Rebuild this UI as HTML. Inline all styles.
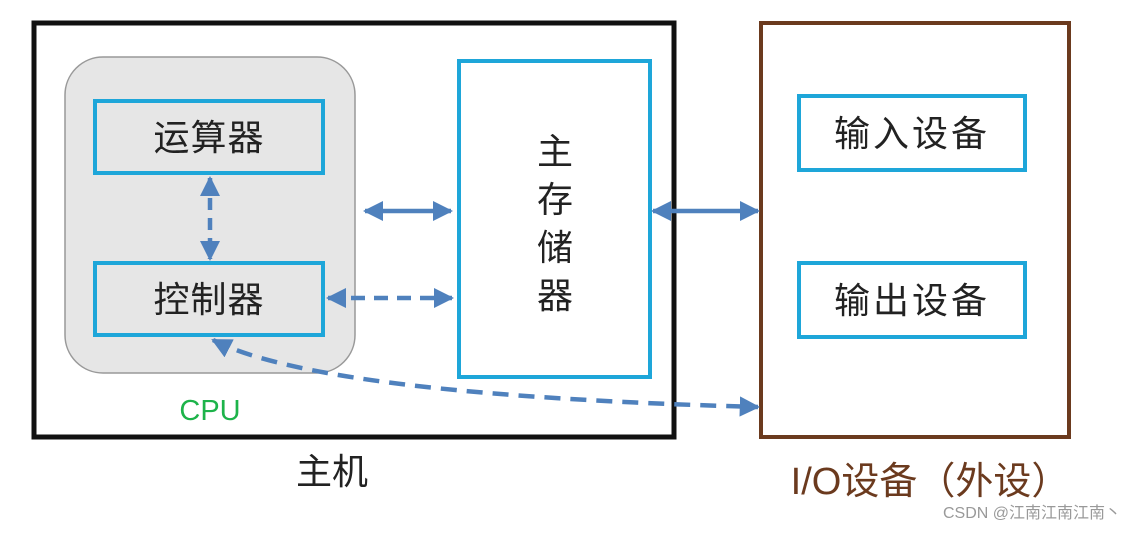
<!DOCTYPE html>
<html><head><meta charset="utf-8"><style>
body{margin:0;background:#fff;}
svg text{font-family:"Liberation Sans","Noto Sans CJK SC",sans-serif;}
</style></head><body>
<svg width="1146" height="530" viewBox="0 0 1146 530" xmlns="http://www.w3.org/2000/svg">
<defs>
<marker id="ah" viewBox="0 0 10 10" refX="9" refY="5" markerWidth="4.5" markerHeight="4.5" orient="auto-start-reverse">
<path d="M0,0 L10,5 L0,10 z" fill="#4f81bd"/></marker>
</defs>
<rect x="34" y="23" width="640" height="414" fill="#fff" stroke="#111" stroke-width="5"/>
<rect x="65" y="57" width="290" height="316" rx="38" fill="#e6e6e6" stroke="#999" stroke-width="1.5"/>
<rect x="95" y="101" width="228" height="72" fill="none" stroke="#1ea6d9" stroke-width="4"/>
<rect x="95" y="263" width="228" height="72" fill="none" stroke="#1ea6d9" stroke-width="4"/>
<text x="209" y="150" font-size="36" text-anchor="middle" fill="#222" letter-spacing="1">运算器</text>
<text x="209" y="312" font-size="36" text-anchor="middle" fill="#222" letter-spacing="1">控制器</text>
<rect x="459" y="61" width="191" height="316" fill="#fff" stroke="#1ea6d9" stroke-width="4"/>
<text x="555" y="164" font-size="36" text-anchor="middle" fill="#222">主</text>
<text x="555" y="212" font-size="36" text-anchor="middle" fill="#222">存</text>
<text x="555" y="260" font-size="36" text-anchor="middle" fill="#222">储</text>
<text x="555" y="308" font-size="36" text-anchor="middle" fill="#222">器</text>
<text x="210" y="420" font-size="29" text-anchor="middle" fill="#1db34a">CPU</text>
<rect x="761" y="23" width="308" height="414" fill="none" stroke="#6b3a1e" stroke-width="4"/>
<rect x="799" y="96" width="226" height="74" fill="none" stroke="#1ea6d9" stroke-width="4"/>
<rect x="799" y="263" width="226" height="74" fill="none" stroke="#1ea6d9" stroke-width="4"/>
<text x="912" y="146" font-size="36" text-anchor="middle" fill="#222" letter-spacing="3">输入设备</text>
<text x="912" y="313" font-size="36" text-anchor="middle" fill="#222" letter-spacing="3">输出设备</text>
<g stroke="#4f81bd" stroke-width="4.5" fill="none">
<line x1="365" y1="211" x2="451" y2="211" marker-start="url(#ah)" marker-end="url(#ah)"/>
<line x1="653" y1="211" x2="758" y2="211" marker-start="url(#ah)" marker-end="url(#ah)"/>
<line x1="328" y1="298" x2="452" y2="298" stroke-dasharray="14,9" marker-start="url(#ah)" marker-end="url(#ah)"/>
<line x1="210" y1="178" x2="210" y2="259" stroke-dasharray="12,8" marker-start="url(#ah)" marker-end="url(#ah)"/>
<path d="M213,340 Q320,395 758,407" stroke-dasharray="16,10" marker-start="url(#ah)" marker-end="url(#ah)"/>
</g>
<text x="332" y="484" font-size="36" text-anchor="middle" fill="#222">主机</text>
<text x="930" y="494" font-size="38" text-anchor="middle" fill="#6b3a1e">I/O设备（外设）</text>
<text x="1032" y="518" font-size="16" text-anchor="middle" fill="#999">CSDN @江南江南江南丶</text>
</svg>
</body></html>
